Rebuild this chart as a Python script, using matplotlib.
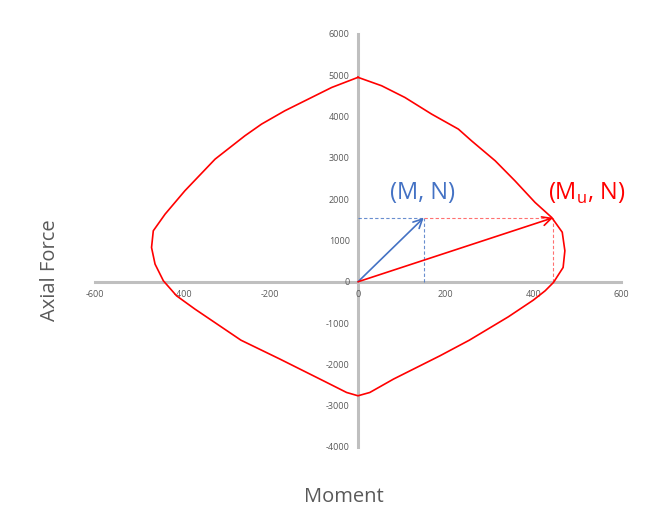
import matplotlib.pyplot as plt

plt.rcParams['font.family'] = ['Open Sans', 'DejaVu Sans']
plt.rcParams['axes.unicode_minus'] = False

# interaction diagram (kN*m, kN)
moment = [0, -60, -121, -167, -220, -258, -326, -395, -440, -467, -471, -463,
          -444, -414, -372, -267, -178, -79, -26, 0, 27, 81, 187, 254, 343, 400,
          427, 446, 468, 472, 466, 442, 404, 358, 313, 259, 229, 168, 107, 54, 0]
axial = [4950, 4705, 4383, 4140, 3818, 3535, 2970, 2203, 1639, 1235, 830, 428,
         24, -339, -661, -1414, -1872, -2397, -2680, -2760, -2680, -2356, -1792,
         -1414, -848, -444, -218, -16, 347, 751, 1200, 1557, 1921, 2446, 2930,
         3414, 3697, 4060, 4463, 4746, 4950]

# load point and its capacity point at the same axial force
m_load, n_load = 150, 1550
m_cap = 445

xticks = [-600, -400, -200, 0, 200, 400, 600]
yticks = [-4000, -3000, -2000, -1000, 0, 1000, 2000, 3000, 4000, 5000, 6000]

blue = '#4472C4'
red = '#FF0000'
grey = '#595959'

fig = plt.figure(figsize=(6.48, 5.22), dpi=100)
ax = fig.add_axes([0.1466, 0.1437, 0.8117, 0.7912])

ax.plot(moment, axial, color=red, lw=1.2, zorder=3, solid_joinstyle='round')

# guide lines
ax.plot([0, m_load], [n_load, n_load], color=blue, lw=0.8, ls=(0, (3, 2)), alpha=0.8)
ax.plot([m_load, m_load], [0, n_load], color=blue, lw=0.8, ls=(0, (3, 2)), alpha=0.8)
ax.plot([m_load, m_cap], [n_load, n_load], color='#FF7070', lw=0.8, ls=(0, (3, 2)))
ax.plot([m_cap, m_cap], [0, n_load], color='#FF7070', lw=0.8, ls=(0, (3, 2)))

ax.annotate('', xy=(m_load, n_load), xytext=(0, 0),
            arrowprops=dict(arrowstyle='->', color=blue, lw=1.2, mutation_scale=16,
                            shrinkA=0, shrinkB=0), zorder=4)
ax.annotate('', xy=(m_cap, n_load), xytext=(0, 0),
            arrowprops=dict(arrowstyle='->', color=red, lw=1.2, mutation_scale=16,
                            shrinkA=0, shrinkB=0), zorder=4)

ax.text(148, 2150, '(M, N)', color=blue, fontsize=17, ha='center', va='center')
ax.text(522, 2150, r'(M$_\mathregular{u}$, N)', color=red, fontsize=17,
        ha='center', va='center')

ax.set_xlim(-600, 600)
ax.set_ylim(-4000, 6000)
ax.set_xticks(xticks)
ax.set_yticks(yticks)

for side in ['top', 'right']:
    ax.spines[side].set_visible(False)
for side in ['left', 'bottom']:
    ax.spines[side].set_position(('data', 0))
    ax.spines[side].set_color('#BFBFBF')
    ax.spines[side].set_linewidth(2.2)
    ax.spines[side].set_zorder(1)

ax.tick_params(length=0, labelsize=6.5, labelcolor=grey)
ax.tick_params(axis='y', pad=6)
ax.tick_params(axis='x', pad=6)

fig.text(0.531, 0.047, 'Moment', color=grey, fontsize=14.5, ha='center', va='center')
fig.text(0.077, 0.483, 'Axial Force', color=grey, fontsize=14.5, ha='center',
         va='center', rotation=90)

fig.savefig('out.png', dpi=100)
